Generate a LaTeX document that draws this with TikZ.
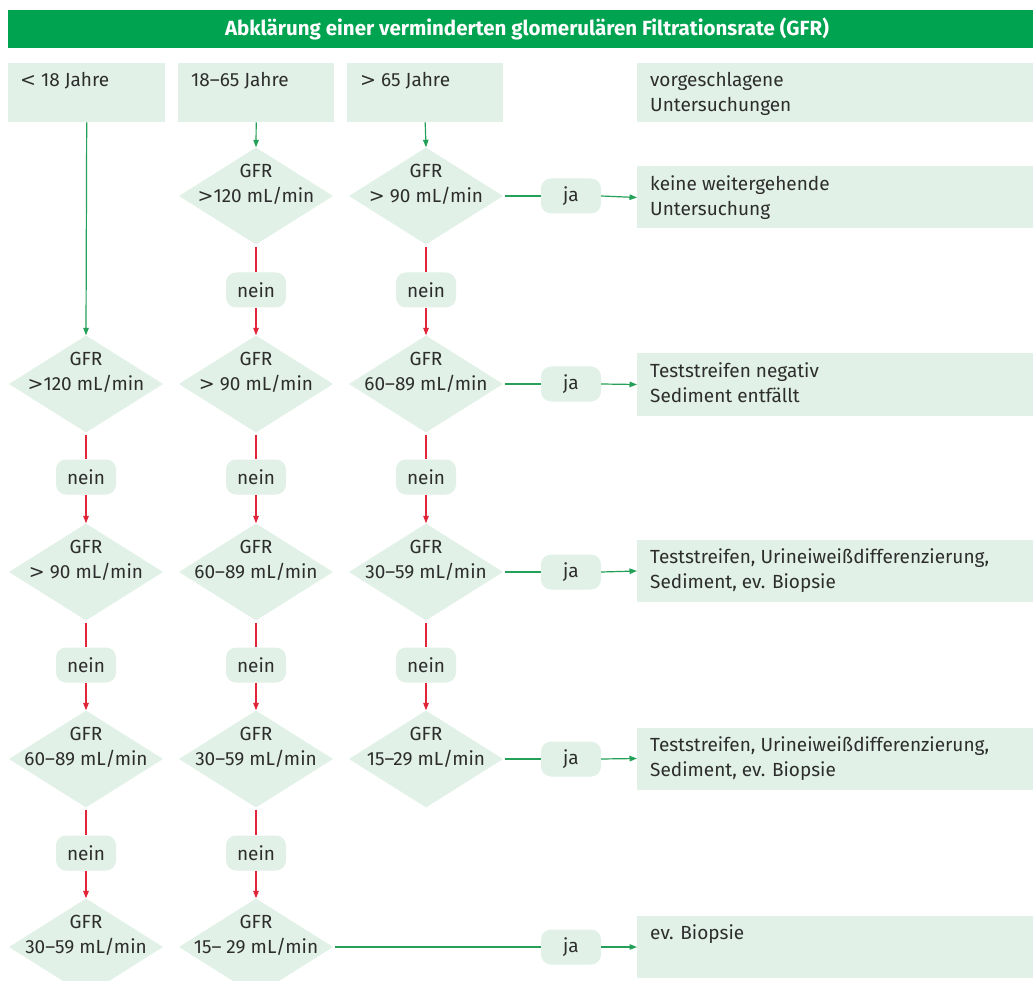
\documentclass[tikz,border=0pt]{standalone}
\usepackage{fontspec}
\setmainfont{Fira Sans}
\newfontfamily\relfont{DejaVu Sans}
\newcommand{\gtsign}{{\relfont >}}
\newcommand{\ltsign}{{\relfont <}}
\usetikzlibrary{shapes.geometric,arrows.meta,calc}

\definecolor{barGreen}{RGB}{0,163,80}
\definecolor{paleGreen}{RGB}{225,241,231}
\definecolor{lineGreen}{RGB}{36,160,88}
\definecolor{noRed}{RGB}{226,38,58}
\definecolor{ink}{RGB}{45,45,45}

\tikzset{
  panel/.style={fill=paleGreen, draw=none, inner sep=0pt},
  decision/.style={diamond, fill=paleGreen, draw=none, minimum width=154pt, minimum height=97pt, inner sep=0pt},
  dlabel/.style={align=center, inner sep=0pt, text=ink},
  answer/.style={fill=paleGreen, draw=none, rounded corners=10pt, minimum width=60pt, minimum height=35pt, inner sep=0pt, text=ink},
  paneltext/.style={align=left, inner sep=0pt, anchor=north west, text=ink},
  yesline/.style={draw=lineGreen, line width=1.2pt},
  yesarrow/.style={yesline, -{Triangle[length=7.5pt,width=5.5pt]}},
  noline/.style={draw=noRed, line width=1.2pt, shorten <=2pt},
  noarrow/.style={draw=noRed, line width=1.2pt, -{Triangle[length=7.5pt,width=5.5pt]}},
}

\begin{document}
\begin{tikzpicture}[x=1pt, y=-1pt, font=\fontsize{19}{25}\selectfont]
\clip (0,0) rectangle (1033,981);
\fill[white] (0,0) rectangle (1033,981);

% title bar
\node[fill=barGreen, minimum width=1025pt, minimum height=38pt, inner sep=0pt, anchor=north west] (bar) at (8,10) {};
\node[text=white, font=\fontsize{20.5}{22}\selectfont\bfseries, inner sep=0pt] (title) at (527,29) {Abklärung einer verminderten glomerulären Filtrationsrate (GFR)};

% column headers
\node[panel, minimum width=157pt, minimum height=59pt, anchor=north west] (h1) at (8,63) {};
\node[panel, minimum width=156pt, minimum height=59pt, anchor=north west] (h2) at (178,63) {};
\node[panel, minimum width=156pt, minimum height=59pt, anchor=north west] (h3) at (347,63) {};
\node[panel, minimum width=396pt, minimum height=59pt, anchor=north west] (h4) at (637,63) {};
\node[paneltext] (h1t) at ($(h1.north west)+(12,9)$) {\ltsign\ 18 Jahre};
\node[paneltext] (h2t) at ($(h2.north west)+(13,9)$) {18–65 Jahre};
\node[paneltext] (h3t) at ($(h3.north west)+(13,9)$) {\gtsign\ 65 Jahre};
\node[paneltext] (h4t) at ($(h4.north west)+(13,9)$) {vorgeschlagene\\Untersuchungen};

% decisions, column < 18
\node[decision] (dA2) at (86,384) {};
\node[decision] (dA3) at (86,572) {};
\node[decision] (dA4) at (86,759) {};
\node[decision] (dA5) at (86,947) {};
% decisions, column 18-65
\node[decision] (dB1) at (256,196) {};
\node[decision] (dB2) at (256,384) {};
\node[decision] (dB3) at (256,572) {};
\node[decision] (dB4) at (256,759) {};
\node[decision] (dB5) at (256,947) {};
% decisions, column > 65
\node[decision] (dC1) at (426,196) {};
\node[decision] (dC2) at (426,384) {};
\node[decision] (dC3) at (426,572) {};
\node[decision] (dC4) at (426,759) {};

\node[dlabel] (tA2) at ($(dA2.center)+(0,-12)$) {GFR\\\gtsign120 mL/min};
\node[dlabel] (tA3) at ($(dA3.center)+(0,-12)$) {GFR\\\gtsign\ 90 mL/min};
\node[dlabel] (tA4) at ($(dA4.center)+(0,-12)$) {GFR\\60–89 mL/min};
\node[dlabel] (tA5) at ($(dA5.center)+(0,-12)$) {GFR\\30–59 mL/min};
\node[dlabel] (tB1) at ($(dB1.center)+(0,-12)$) {GFR\\\gtsign120 mL/min};
\node[dlabel] (tB2) at ($(dB2.center)+(0,-12)$) {GFR\\\gtsign\ 90 mL/min};
\node[dlabel] (tB3) at ($(dB3.center)+(0,-12)$) {GFR\\60–89 mL/min};
\node[dlabel] (tB4) at ($(dB4.center)+(0,-12)$) {GFR\\30–59 mL/min};
\node[dlabel] (tB5) at ($(dB5.center)+(0,-12)$) {GFR\\15– 29 mL/min};
\node[dlabel] (tC1) at ($(dC1.center)+(0,-12)$) {GFR\\\gtsign\ 90 mL/min};
\node[dlabel] (tC2) at ($(dC2.center)+(0,-12)$) {GFR\\60–89 mL/min};
\node[dlabel] (tC3) at ($(dC3.center)+(0,-12)$) {GFR\\30–59 mL/min};
\node[dlabel] (tC4) at ($(dC4.center)+(0,-12)$) {GFR\\15–29 mL/min};

% "nein" tags
\node[answer] (nA2) at (86,477) {nein};
\node[answer] (nA3) at (86,665) {nein};
\node[answer] (nA4) at (86,853) {nein};
\node[answer] (nB1) at (256,290) {nein};
\node[answer] (nB2) at (256,477) {nein};
\node[answer] (nB3) at (256,665) {nein};
\node[answer] (nB4) at (256,853) {nein};
\node[answer] (nC1) at (426,290) {nein};
\node[answer] (nC2) at (426,477) {nein};
\node[answer] (nC3) at (426,665) {nein};

% "ja" tags
\node[answer] (j1) at (571,196) {ja};
\node[answer] (j2) at (571,384) {ja};
\node[answer] (j3) at (571,572) {ja};
\node[answer] (j4) at (571,759) {ja};
\node[answer] (j5) at (571,947) {ja};

% recommended examinations
\node[panel, minimum width=396pt, minimum height=62pt, anchor=west] (r1) at (637,197.5) {};
\node[panel, minimum width=396pt, minimum height=62pt, anchor=west] (r2) at (637,384.5) {};
\node[panel, minimum width=396pt, minimum height=62pt, anchor=west] (r3) at (637,571) {};
\node[panel, minimum width=396pt, minimum height=62pt, anchor=west] (r4) at (637,758.5) {};
\node[panel, minimum width=396pt, minimum height=62pt, anchor=west] (r5) at (637,947) {};
\node[paneltext] (r1t) at ($(r1.north west)+(13,9)$) {keine weitergehende\\Untersuchung};
\node[paneltext] (r2t) at ($(r2.north west)+(13,9)$) {Teststreifen negativ\\Sediment entfällt};
\node[paneltext] (r3t) at ($(r3.north west)+(13,9)$) {Teststreifen, Urineiweißdifferenzierung,\\Sediment, ev. Biopsie};
\node[paneltext] (r4t) at ($(r4.north west)+(13,9)$) {Teststreifen, Urineiweißdifferenzierung,\\Sediment, ev. Biopsie};
\node[paneltext] (r5t) at ($(r5.north west)+(13,9)$) {ev. Biopsie};

% entry arrows
\draw[yesarrow] (h1.south) -- (dA2.north);
\draw[yesarrow] (h2.south) -- (dB1.north);
\draw[yesarrow] (h3.south) -- (dC1.north);

% "nein" chains
\foreach \a/\n/\b in {dA2/nA2/dA3, dA3/nA3/dA4, dA4/nA4/dA5,
                      dB1/nB1/dB2, dB2/nB2/dB3, dB3/nB3/dB4, dB4/nB4/dB5,
                      dC1/nC1/dC2, dC2/nC2/dC3, dC3/nC3/dC4}{
  \draw[noline] (\a.south) -- (\n.north);
  \draw[noarrow] (\n.south) -- (\b.north);
}

% "ja" branches
\foreach \a/\j/\r in {dC1/j1/r1, dC2/j2/r2, dC3/j3/r3, dC4/j4/r4, dB5/j5/r5}{
  \draw[yesline, shorten <=2pt] (\a.east) -- (\j.west);
  \draw[yesarrow] (\j.east) -- (\r.west);
}
\end{tikzpicture}
\end{document}
